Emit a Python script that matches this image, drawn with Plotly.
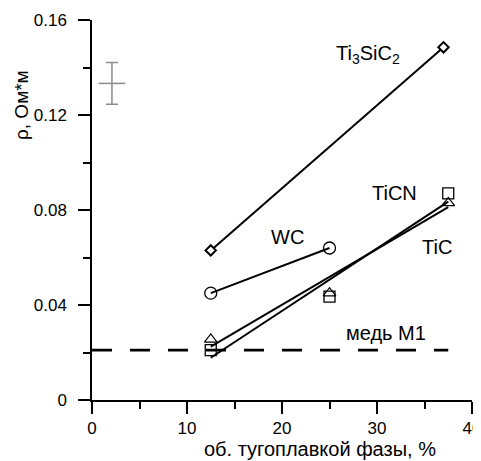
import plotly.graph_objects as go

# ---- data ----
ti3sic2_x = [12.5, 37.0]
ti3sic2_y = [0.063, 0.1485]

wc_x = [12.5, 25.0]
wc_y = [0.045, 0.064]

tic_x = [12.5, 25.0, 37.5]
tic_y = [0.0255, 0.045, 0.083]
tic_fit_x = [12.5, 37.5]
tic_fit_y = [0.0225, 0.0812]

ticn_x = [12.5, 25.0, 37.5]
ticn_y = [0.021, 0.0435, 0.087]
ticn_fit_x = [12.5, 37.5]
ticn_fit_y = [0.0178, 0.0835]

copper_x = [0.0, 37.5]
copper_y = [0.021, 0.021]

err_x = [2.1]
err_y = [0.1333]
err_val = [0.0088]

x_ticks = [0, 10, 20, 30, 40]
y_ticks = [0, 0.04, 0.08, 0.12, 0.16]
y_tick_text = ["0", "0.04", "0.08", "0.12", "0.16"]

FONT = "Liberation Sans, Arial, sans-serif"
fig = go.Figure()

# copper reference line
fig.add_trace(go.Scatter(x=copper_x, y=copper_y, mode="lines",
                         line=dict(color="black", width=2.6, dash="20px,18px"),
                         hoverinfo="skip"))

# fit lines
fig.add_trace(go.Scatter(x=tic_fit_x, y=tic_fit_y, mode="lines",
                         line=dict(color="black", width=2)))
fig.add_trace(go.Scatter(x=ticn_fit_x, y=ticn_fit_y, mode="lines",
                         line=dict(color="black", width=2)))

# Ti3SiC2
fig.add_trace(go.Scatter(x=ti3sic2_x, y=ti3sic2_y, mode="lines+markers",
                         line=dict(color="black", width=2),
                         marker=dict(symbol="diamond", size=8, color="white",
                                     line=dict(color="black", width=2))))
# WC
fig.add_trace(go.Scatter(x=wc_x, y=wc_y, mode="lines+markers",
                         line=dict(color="black", width=2),
                         marker=dict(symbol="circle", size=12, color="rgba(0,0,0,0)",
                                     line=dict(color="black", width=1.3))))
# TiC points
fig.add_trace(go.Scatter(x=tic_x, y=tic_y, mode="markers",
                         marker=dict(symbol="triangle-up", size=11, color="rgba(0,0,0,0)",
                                     line=dict(color="black", width=1.2))))
# TiCN points
fig.add_trace(go.Scatter(x=ticn_x, y=ticn_y, mode="markers",
                         marker=dict(symbol="square", size=11, color="rgba(0,0,0,0)",
                                     line=dict(color="black", width=1.3))))

# error bar sample
fig.add_trace(go.Scatter(x=err_x, y=err_y, mode="markers",
                         marker=dict(symbol="line-ew", size=19,
                                     line=dict(color="#8a8a8a", width=1.5)),
                         error_y=dict(type="data", array=err_val, color="#8a8a8a",
                                      thickness=1.5, width=6)))

ann_font = dict(family=FONT, size=20, color="black")
labels = [
    (29.1, 0.1455, "Ti<sub>3</sub>SiC<sub>2</sub>"),
    (31.8, 0.0872, "TiCN"),
    (20.6, 0.0685, "WC"),
    (36.3, 0.0644, "TiC"),
    (30.9, 0.0282, "медь M1"),
]
for x, y, t in labels:
    fig.add_annotation(x=x, y=y, text=t, showarrow=False, font=ann_font,
                       xanchor="center", yanchor="middle")

# axis titles as annotations
fig.add_annotation(xref="paper", yref="paper", x=(320 - 92) / 380, y=-(449 - 400) / 380,
                   text="об. тугоплавкой фазы, %", showarrow=False,
                   font=dict(family=FONT, size=20, color="black"),
                   xanchor="center", yanchor="middle")
fig.add_annotation(xref="paper", yref="paper", x=-(92 - 21) / 380, y=(400 - 105) / 380,
                   text="ρ, Ом*м", showarrow=False, textangle=-90,
                   font=dict(family=FONT, size=19, color="black"),
                   xanchor="center", yanchor="middle")

axis_common = dict(showgrid=False, zeroline=False, showline=True, linecolor="black",
                   linewidth=1.5, ticks="outside", ticklen=12, tickwidth=1.5,
                   tickcolor="black", tickfont=dict(family=FONT, size=17, color="black"),
                   mirror=False, ticklabeloverflow="allow")

fig.update_xaxes(range=[0, 40], tickvals=x_ticks, ticklabelstandoff=0,
                 minor=dict(ticks="outside", ticklen=7, tickwidth=1.5, tickcolor="black",
                            dtick=5, showgrid=False),
                 **axis_common)
fig.update_yaxes(range=[0, 0.16], tickvals=y_ticks, ticktext=y_tick_text,
                 ticklabelstandoff=8,
                 minor=dict(ticks="outside", ticklen=7, tickwidth=1.5, tickcolor="black",
                            dtick=0.02, showgrid=False),
                 **axis_common)

# page body has an 8px margin, so the figure is shifted by 8px
fig.update_layout(width=481, height=461, showlegend=False,
                  plot_bgcolor="white", paper_bgcolor="white",
                  margin=dict(l=84, r=17, t=12, b=69, autoexpand=False),
                  font=dict(family=FONT))

fig.write_html("out.html")
